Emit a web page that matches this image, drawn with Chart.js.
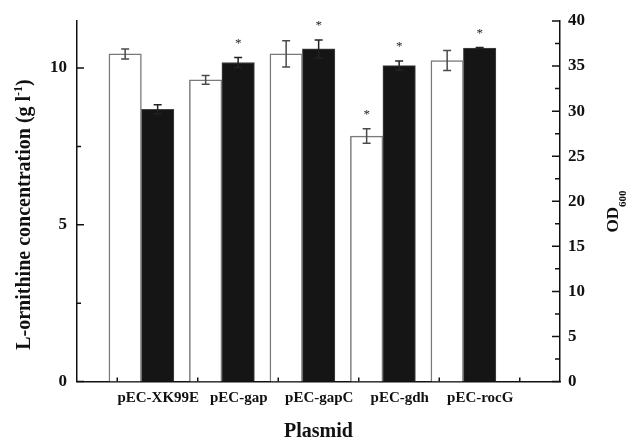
<!DOCTYPE html>
<html>
<head>
<meta charset="utf-8">
<script src="https://cdn.jsdelivr.net/npm/chart.js@4.4.0/dist/chart.umd.min.js"></script>
<style>
  html, body { margin: 0; padding: 0; background: #fff; }
</style>
</head>
<body>
<canvas id="chart" width="627" height="438"></canvas>
<script>
// data
const categories = ['pEC-XK99E', 'pEC-gap', 'pEC-gapC', 'pEC-gdh', 'pEC-rocG'];
const ornithine = [10.45, 9.62, 10.45, 7.83, 10.24];      // g/l, left axis (white bars)
const ornithineErr = [0.16, 0.14, 0.42, 0.23, 0.32];
const ornithineStar = [false, false, false, true, false];
const od600 = [30.2, 35.4, 36.9, 35.05, 37.0];           // right axis (black bars)
const od600Err = [0.52, 0.55, 1.0, 0.52, 0.05];
const od600Star = [false, true, true, true, true];

const leftTicks = [0, 5, 10];
const leftMinor = [2.5, 7.5];
const rightTicks = [0, 5, 10, 15, 20, 25, 30, 35, 40];
const rightMinor = [2.5, 7.5, 12.5, 17.5, 22.5, 27.5, 32.5, 37.5];

const SERIF = '"Liberation Serif", "Times New Roman", serif';
const errs = [ornithineErr, od600Err];
const stars = [ornithineStar, od600Star];

// error bars + stars on top of the bars
const errorBarPlugin = {
    id: 'errorBars',
    afterDatasetsDraw(chart) {
        const ctx = chart.ctx;
        chart.data.datasets.forEach((ds, di) => {
            const meta = chart.getDatasetMeta(di);
            const yScale = chart.scales[meta.yAxisID];
            meta.data.forEach((bar, i) => {
                const v = ds.data[i].y;
                const e = errs[di][i];
                const top = yScale.getPixelForValue(v + e);
                const bot = yScale.getPixelForValue(v - e);
                ctx.save();
                ctx.strokeStyle = di === 0 ? '#4a4a4a' : '#222';
                ctx.lineWidth = 1.5;
                ctx.beginPath();
                ctx.moveTo(bar.x, top); ctx.lineTo(bar.x, bot);
                ctx.moveTo(bar.x - 4, top); ctx.lineTo(bar.x + 4, top);
                ctx.moveTo(bar.x - 4, bot); ctx.lineTo(bar.x + 4, bot);
                ctx.stroke();
                if (stars[di][i]) {
                    ctx.fillStyle = '#222';
                    ctx.font = '13px ' + SERIF;
                    ctx.textAlign = 'center';
                    ctx.textBaseline = 'alphabetic';
                    ctx.fillText('*', bar.x, top - 11);
                }
                ctx.restore();
            });
        });
    }
};

// inward tick marks and the y axis titles (with sub/superscripts)
const axisPlugin = {
    id: 'axisMarks',
    afterDraw(chart) {
        const ctx = chart.ctx;
        const {y, y1, x} = chart.scales;
        const area = chart.chartArea;
        ctx.save();
        ctx.strokeStyle = '#111';
        ctx.lineWidth = 1.5;
        ctx.beginPath();
        leftTicks.forEach(v => { const p = y.getPixelForValue(v); ctx.moveTo(area.left, p); ctx.lineTo(area.left + 7, p); });
        leftMinor.forEach(v => { const p = y.getPixelForValue(v); ctx.moveTo(area.left, p); ctx.lineTo(area.left + 4, p); });
        rightTicks.forEach(v => { const p = y1.getPixelForValue(v); ctx.moveTo(area.right, p); ctx.lineTo(area.right - 8, p); });
        rightMinor.forEach(v => { const p = y1.getPixelForValue(v); ctx.moveTo(area.right, p); ctx.lineTo(area.right - 5, p); });
        x.ticks.forEach((t, i) => { const p = x.getPixelForTick(i); ctx.moveTo(p, area.bottom); ctx.lineTo(p, area.bottom - 4); });
        ctx.stroke();

        ctx.fillStyle = '#111';
        ctx.textBaseline = 'alphabetic';
        ctx.textAlign = 'left';

        // left title
        const big = 'bold 20px ' + SERIF, small = 'bold 12px ' + SERIF;
        const parts = [['L-ornithine concentration (g l', big, 0], ['-1', small, -8], [')', big, 0]];
        let total = 0;
        parts.forEach(p => { ctx.font = p[1]; total += ctx.measureText(p[0]).width; });
        ctx.translate(29.5, 214.5);
        ctx.rotate(-Math.PI / 2);
        let cx = -total / 2;
        parts.forEach(p => { ctx.font = p[1]; ctx.fillText(p[0], cx, p[2]); cx += ctx.measureText(p[0]).width; });
        ctx.setTransform(1, 0, 0, 1, 0, 0);

        // right title
        const rparts = [['OD', 'bold 17px ' + SERIF, 0], ['600', 'bold 11px ' + SERIF, 8]];
        total = 0;
        rparts.forEach(p => { ctx.font = p[1]; total += ctx.measureText(p[0]).width; });
        ctx.translate(617.5, 211.5);
        ctx.rotate(-Math.PI / 2);
        cx = -total / 2;
        rparts.forEach(p => { ctx.font = p[1]; ctx.fillText(p[0], cx, p[2]); cx += ctx.measureText(p[0]).width; });
        ctx.restore();
    }
};

const tickFont = { family: SERIF, size: 17, weight: 'bold' };
const border = { display: true, color: '#111', width: 1.5 };
const noGrid = { display: false, drawTicks: false };

new Chart(document.getElementById('chart'), {
    type: 'bar',
    data: {
        datasets: [{
            label: 'L-ornithine',
            data: ornithine.map((v, i) => ({ x: i, y: v })),
            xAxisID: 'xb',
            yAxisID: 'y',
            backgroundColor: '#ffffff',
            borderColor: '#7a7a7a',
            borderWidth: 1.5,
            barThickness: 32.5
        }, {
            label: 'OD600',
            data: od600.map((v, i) => ({ x: i, y: v })),
            xAxisID: 'xb',
            yAxisID: 'y1',
            backgroundColor: '#151515',
            borderColor: '#444',
            borderWidth: 1,
            barThickness: 32.5
        }]
    },
    options: {
        responsive: false,
        animation: false,
        layout: { padding: { top: 21, left: 0, right: 0, bottom: 0 } },
        plugins: { legend: { display: false }, tooltip: { enabled: false } },
        scales: {
            xb: {
                type: 'linear',
                display: false,
                offset: false,
                min: -0.8,
                max: 5.2
            },
            x: {
                type: 'category',
                position: 'bottom',
                labels: [...categories, ''],
                offset: true,
                grid: { display: false, drawTicks: false, offset: false },
                border: border,
                ticks: { font: { family: SERIF, size: 15, weight: 'bold' }, color: '#111', labelOffset: 41, padding: 8, maxRotation: 0, autoSkip: false },
                title: { display: true, text: 'Plasmid', color: '#111', font: { family: SERIF, size: 20, weight: 'bold', lineHeight: 0.6 }, padding: { top: 0, bottom: 0 } },
                afterFit: s => { s.height = 56.5; }
            },
            y: {
                position: 'left',
                min: 0,
                max: 11.5,
                grid: noGrid,
                border: border,
                ticks: { font: tickFont, color: '#111', padding: 10 },
                afterBuildTicks: s => { s.ticks = leftTicks.map(v => ({ value: v })); },
                afterFit: s => { s.width = 77; }
            },
            y1: {
                position: 'right',
                min: 0,
                max: 40,
                grid: noGrid,
                border: border,
                ticks: { font: tickFont, color: '#111', padding: 8 },
                afterBuildTicks: s => { s.ticks = rightTicks.map(v => ({ value: v })); },
                afterFit: s => { s.width = 67; }
            }
        }
    },
    plugins: [errorBarPlugin, axisPlugin]
});
</script>
</body>
</html>
